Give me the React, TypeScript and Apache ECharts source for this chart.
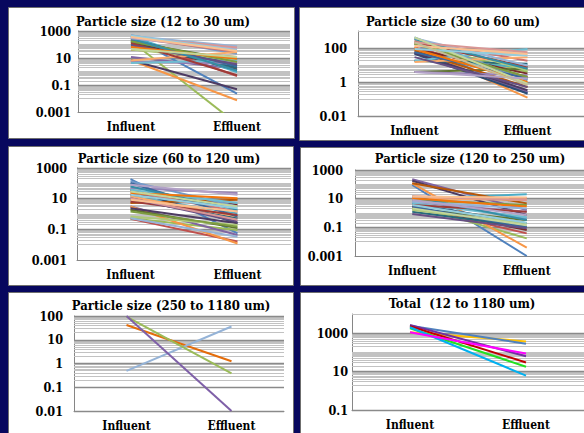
import React, { useEffect, useRef } from 'react';
import * as echarts from 'echarts';

const categories = ['Influent', 'Effluent'];

const excelPalette = [
  '#4F81BD', '#C0504D', '#9BBB59', '#8064A2', '#4BACC6', '#F79646',
  '#2C4D75', '#772C2A', '#5F7530', '#4D3B62', '#276A7C', '#B65708',
  '#729ACA', '#CD7371', '#AFC97A', '#9983B5', '#6FBDD1', '#F9AB6B',
  '#3A679C', '#9F3B38', '#7E9D40', '#664F83', '#358EA6', '#F3750B',
  '#95B3D7', '#D99694', '#C3D69B', '#B3A2C7', '#93CDDD', '#FAC090', '#C4BD97',
];

// Panel 1: 12 to 30 um
const p1Title = 'Particle size (12 to 30 um)';
const p1Influent = [360, 277, 182, 12, 405, 6.8, 230, 155, 155, 6.8, 115, 42, 480, 325, 42, 5.2, 4.3, 6.5, 205, 130, 173, 87, 277, 66, 430, 360, 47, 290, 455, 360];
const p1Effluent = [0.023, 0.46, 0.00013, 1.6, 0.9, 0.0074, 2.9, 1.35, 6.8, 0.048, 1.9, 12, 21, 28, 6.8, 3.9, 6.8, 28, 2.4, 0.53, 5.1, 3.4, 1.2, 8.9, 74, 59, 12, 42, 37, 33];
const p1TickLabels = ['1000', '10', '0.1', '0.001'];

// Panel 2: 30 to 60 um
const p2Title = 'Particle size (30 to 60 um)';
const p2Influent = [170, 109, 185, 56, 18, 109, 45, 87, 3.9, 51, 18, 70, 420, 265, 335, 3.9, 18, 15, 56, 214, 170, 29, 335, 87, 380, 214, 420, 3.9, 87, 137, 214];
const p2Effluent = [0.21, 1.95, 3.9, 0.26, 7.6, 0.12, 0.21, 3.1, 6, 0.33, 12, 0.51, 1.26, 18, 4.8, 2.5, 88, 29, 1.6, 7.6, 1.95, 0.51, 6, 1, 9.4, 56, 0.81, 1.6, 36, 45, 0.65];
const p2TickLabels = ['100', '1', '0.01'];

// Panel 3: 60 to 120 um
const p3Title = 'Particle size (60 to 120 um)';
const p3Influent = [190, 0.48, 0.52, 3.1, 14, 3.1, 38, 18, 1.9, 2.4, 8.5, 5.2, 134, 29, 0.68, 49, 38, 14, 105, 6.6, 1.45, 10.7, 63, 23, 0.52, 10.7, 29, 81, 18, 8.5];
const p3Effluent = [0.055, 0.016, 0.091, 0.043, 1.1, 0.012, 0.25, 4.0, 0.12, 0.25, 0.52, 8.5, 3.1, 1.45, 0.19, 23, 5.2, 0.68, 0.68, 0.87, 0.15, 0.32, 1.9, 10.7, 0.033, 0.42, 3.1, 18, 2.4, 1.45];
const p3TickLabels = ['1000', '10', '0.1', '0.001'];

// Panel 4: 120 to 250 um
const p4Title = 'Particle size (120 to 250 um)';
const p4Influent = [90, 2.8, 3.6, 224, 10.5, 117, 4.7, 2.8, 2.1, 180, 1.2, 117, 8.1, 14, 1.6, 6.1, 4.7, 10.5, 2.8, 3.6, 8.1, 0.85, 14, 10.5, 6.1, 14, 2.1, 8.1, 3.6, 14];
const p4Effluent = [0.001, 0.038, 0.017, 1.6, 20, 0.0038, 0.19, 0.065, 0.32, 0.72, 0.11, 4.7, 0.43, 10.5, 0.19, 1.2, 0.5, 8.1, 0.1, 1.2, 3.6, 0.085, 0.32, 2.8, 2.1, 8.1, 0.14, 0.72, 0.21, 12];
const p4TickLabels = ['1000', '10', '0.1', '0.001'];

// Panel 5: 250 to 1180 um
const p5Title = 'Particle size (250 to 1180 um)';
const p5Influent = [42, 0.49, 95, 100];
const p5Effluent = [1.25, 36, 0.38, 0.01];
const p5Colors = ['#E46C0A', '#95B3D7', '#9BBB59', '#7F60A8'];
const p5TickLabels = ['100', '10', '1', '0.1', '0.01'];

// Panel 6: Total
const p6Title = 'Total  (12 to 1180 um)';
const p6Influent = [1130, 2470, 2700, 2300, 1800, 2030, 1130];
const p6Effluent = [375, 280, 63, 30, 18, 6.2, 87];
const p6Colors = ['#FFC000', '#4F81BD', '#7030A0', '#C00000', '#22E022', '#00B0F0', '#FF00FF'];
const p6TickLabels = ['1000', '10', '0.1'];

const FONT = 'DejaVu Serif Condensed, DejaVu Serif';

type Panel = {
  title: string;
  influent: number[];
  effluent: number[];
  colors: string[];
  yMin: number;
  yMax: number;
  ticks: string[];
  minorFrom: number;
  minorTo: number;
  rect: number[];
  grid: number[];
  titlePos: number[];
  labelMargin: number;
};

const panels: Panel[] = [
  { title: p1Title, influent: p1Influent, effluent: p1Effluent, colors: excelPalette, yMin: 0.001, yMax: 1000, ticks: p1TickLabels, minorFrom: -2, minorTo: 3, rect: [8, 7, 286, 131], grid: [78, 31, 212, 81], titlePos: [163, 21], labelMargin: 7 },
  { title: p2Title, influent: p2Influent, effluent: p2Effluent, colors: excelPalette, yMin: 0.01, yMax: 1000, ticks: p2TickLabels, minorFrom: -1, minorTo: 2, rect: [299, 7, 300, 133], grid: [358, 31, 232, 85], titlePos: [453, 21], labelMargin: 11 },
  { title: p3Title, influent: p3Influent, effluent: p3Effluent, colors: excelPalette, yMin: 0.001, yMax: 1000, ticks: p3TickLabels, minorFrom: -2, minorTo: 3, rect: [8, 146, 285, 139], grid: [77, 168, 214, 92], titlePos: [169, 158], labelMargin: 10 },
  { title: p4Title, influent: p4Influent, effluent: p4Effluent, colors: excelPalette, yMin: 0.001, yMax: 1000, ticks: p4TickLabels, minorFrom: -2, minorTo: 3, rect: [300, 147, 300, 138], grid: [355, 170, 237, 86], titlePos: [470, 158], labelMargin: 12 },
  { title: p5Title, influent: p5Influent, effluent: p5Effluent, colors: p5Colors, yMin: 0.01, yMax: 100, ticks: p5TickLabels, minorFrom: -1, minorTo: 2, rect: [8, 292, 285, 160], grid: [74, 316, 210, 95], titlePos: [171, 305], labelMargin: 11 },
  { title: p6Title, influent: p6Influent, effluent: p6Effluent, colors: p6Colors, yMin: 0.1, yMax: 10000, ticks: p6TickLabels, minorFrom: 0, minorTo: 3, rect: [300, 292, 300, 160], grid: [352, 314, 238, 96], titlePos: [462, 303], labelMargin: 4 },
];

function sameLog(a: number, b: number) {
  return Math.abs(Math.log10(a) - Math.log10(b)) < 1e-6;
}

function buildOption() {
  const grid: any[] = [];
  const xAxis: any[] = [];
  const yAxis: any[] = [];
  const series: any[] = [];
  const graphic: any[] = [];

  panels.forEach((p, i) => {
    graphic.push({
      type: 'rect',
      z: -100,
      silent: true,
      shape: { x: p.rect[0] + 0.5, y: p.rect[1] + 0.5, width: p.rect[2], height: p.rect[3] },
      style: { fill: '#ffffff', stroke: '#6f6f6f', lineWidth: 1 },
    });
    graphic.push({
      type: 'text',
      z: 100,
      silent: true,
      x: p.titlePos[0],
      y: p.titlePos[1],
      style: {
        text: p.title,
        fontFamily: FONT,
        fontWeight: 'bold',
        fontSize: 13,
        fill: '#000',
        textAlign: 'center',
        textVerticalAlign: 'middle',
        align: 'center',
        verticalAlign: 'middle',
      },
    });

    grid.push({ left: p.grid[0], top: p.grid[1], width: p.grid[2], height: p.grid[3], containLabel: false });

    xAxis.push({
      type: 'category',
      gridIndex: i,
      data: categories,
      boundaryGap: true,
      axisLine: { show: true, onZero: false, lineStyle: { color: '#868686', width: 1 } },
      axisTick: { show: false },
      splitLine: { show: false },
      axisLabel: { margin: 9, fontFamily: FONT, fontWeight: 'bold', fontSize: 12, color: '#000' },
    });

    const tickVals = p.ticks.map((t) => parseFloat(t));
    yAxis.push({
      type: 'log',
      logBase: 10,
      gridIndex: i,
      min: p.yMin,
      max: p.yMax,
      axisLine: { show: true, lineStyle: { color: '#868686', width: 1 } },
      axisTick: { show: false },
      splitLine: { show: false },
      minorTick: { show: false },
      minorSplitLine: { show: false },
      axisLabel: {
        margin: p.labelMargin,
        fontFamily: FONT,
        fontWeight: 'bold',
        fontSize: 12.5,
        color: '#000',
        showMinLabel: true,
        showMaxLabel: true,
        formatter: (v: number) => {
          for (let k = 0; k < tickVals.length; k++) {
            if (sameLog(v, tickVals[k])) return p.ticks[k];
          }
          return '';
        },
      },
    });

    const lines: any[] = [];
    const minor = { color: '#c2c2c2', width: 1, type: 'solid' };
    const major = { color: '#8a8a8a', width: 1.4, type: 'solid' };
    for (let e = p.minorFrom; e < p.minorTo; e++) {
      for (let m = 1; m <= 9; m++) {
        const v = m * Math.pow(10, e);
        if (tickVals.some((t) => sameLog(t, v))) continue;
        lines.push({ yAxis: v, lineStyle: minor });
      }
    }
    if (!tickVals.some((t) => sameLog(t, p.yMax))) lines.push({ yAxis: p.yMax, lineStyle: minor });
    tickVals.forEach((t) => lines.push({ yAxis: t, lineStyle: major }));

    series.push({
      type: 'line',
      xAxisIndex: i,
      yAxisIndex: i,
      data: ['-', '-'],
      z: 1,
      silent: true,
      symbol: 'none',
      markLine: {
        z: 1,
        silent: true,
        symbol: ['none', 'none'],
        animation: false,
        label: { show: false },
        emphasis: { disabled: true },
        data: lines,
      },
    });

    p.influent.forEach((inf, j) => {
      const color = p.colors[j % p.colors.length];
      series.push({
        type: 'line',
        xAxisIndex: i,
        yAxisIndex: i,
        data: [inf, p.effluent[j]],
        symbol: 'none',
        clip: true,
        silent: true,
        z: 10,
        lineStyle: { width: 2, color },
        itemStyle: { color },
      });
    });
  });

  return {
    animation: false,
    backgroundColor: '#07075e',
    grid,
    xAxis,
    yAxis,
    series,
    graphic,
  };
}

export default function App() {
  const ref = useRef<HTMLDivElement>(null);
  useEffect(() => {
    document.body.style.margin = '0';
    const chart = echarts.init(ref.current!, null, { renderer: 'svg' });
    chart.setOption(buildOption() as any);
    return () => chart.dispose();
  }, []);
  return (
    <div
      ref={ref}
      style={{ position: 'fixed', left: 0, top: 0, width: 584, height: 433 }}
    />
  );
}
